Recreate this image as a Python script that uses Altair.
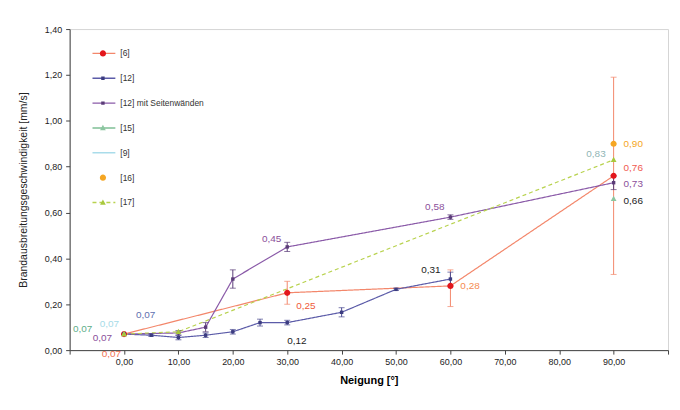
import altair as alt
import pandas as pd

# ---------------- data ----------------
series_names = ["[6]", "[12]", "[12] mit Seitenwänden", "[15]", "[9]", "[16]", "[17]"]

x6 = [0, 30, 60, 90]
y6 = [0.07, 0.25, 0.28, 0.76]
lo6 = [0.07, 0.20, 0.19, 0.33]
hi6 = [0.07, 0.30, 0.35, 1.19]

x12 = [0, 5, 10, 15, 20, 25, 30, 40, 50, 60]
y12 = [0.07, 0.065, 0.055, 0.065, 0.08, 0.12, 0.12, 0.165, 0.265, 0.31]
e12 = [0.0, 0.005, 0.01, 0.01, 0.01, 0.015, 0.01, 0.02, 0.005, 0.03]

x12s = [0, 10, 15, 20, 30, 60, 90]
y12s = [0.07, 0.075, 0.10, 0.31, 0.45, 0.58, 0.73]
e12s = [0.0, 0.01, 0.02, 0.04, 0.02, 0.01, 0.03]

x15 = [0, 90]
y15 = [0.07, 0.66]
x9 = [0]
y9 = [0.07]
x16 = [90]
y16 = [0.90]
x17 = [0, 10, 90]
y17 = [0.07, 0.08, 0.83]

# value labels
lab_series = ["[15]", "[9]", "[12]", "[12] mit Seitenwänden", "[6]",
              "[12] mit Seitenwänden", "[6]", "[12]",
              "[12] mit Seitenwänden", "[12]", "[6]",
              "[16]", "[17]", "[6]", "[12] mit Seitenwänden", "[15]"]
lab_x = [0, 0, 0, 0, 0, 30, 30, 30, 60, 60, 60, 90, 90, 90, 90, 90]
lab_v = [0.07, 0.07, 0.07, 0.07, 0.07, 0.45, 0.25, 0.12, 0.58, 0.31, 0.28,
         0.90, 0.83, 0.76, 0.73, 0.66]

# ---------------- styles ----------------
line_colors = ["#f3876b", "#5b5ba8", "#8a5aa8", "#7fbf95", "#a9dcea", "transparent", "#b8d24e"]
line_dash = [[1, 0], [1, 0], [1, 0], [1, 0], [1, 0], [1, 0], [4, 3]]
point_colors = ["#e3161c", "#3c3c80", "#5a3c78", "#8cc6a0", "transparent", "#f5a623", "#a8c83c"]
CIRC = "M -0.27 0 A 0.27 0.27 0 1 1 0.27 0 A 0.27 0.27 0 1 1 -0.27 0 Z"
SQ = "M -0.15 -0.15 H 0.15 V 0.15 H -0.15 Z"
TRI = "M 0 -0.27 L 0.25 0.2 L -0.25 0.2 Z"
SMALLC = "M -0.1 0 A 0.1 0.1 0 1 1 0.1 0 A 0.1 0.1 0 1 1 -0.1 0 Z"
point_shapes = [CIRC, SQ, SQ, TRI, SMALLC, CIRC, TRI]
err_colors = {"[6]": "#f3876b", "[12]": "#4a4a90", "[12] mit Seitenwänden": "#5a3c78"}

lab_colors = ["#5fae8a", "#a6dbe8", "#6070b0", "#8a4f9a", "#f07050",
              "#8a4f9a", "#f05a3a", "#222222",
              "#8a4f9a", "#222222", "#f58a50",
              "#f5a623", "#8fb5b5", "#f05a50", "#8a4f9a", "#222222"]
lab_dx = [-32, -5, 12, -12, -3, -6, 9, 0, -6, -10, 10, 10, -8, 10, 10, 10]
lab_dy = [-5, -10, -19, 4, 20, -8, 13, 19, -10, -9, 0, 0, -6, -8, 1, 2]
lab_align = ["right", "right", "left", "right", "right", "right", "left", "left",
             "right", "right", "left", "left", "right", "left", "left", "left"]

FONT = "Liberation Sans"
SYM = 529

# ---------------- tables ----------------
def long(name, xs, ys):
    return pd.DataFrame({"series": name, "x": xs, "y": ys})

pts = pd.concat([
    long("[6]", x6, y6), long("[12]", x12, y12), long("[12] mit Seitenwänden", x12s, y12s),
    long("[15]", x15, y15), long("[9]", x9, y9), long("[16]", x16, y16), long("[17]", x17, y17),
], ignore_index=True)
lines_df = pts[pts["series"].isin(["[6]", "[12]", "[12] mit Seitenwänden", "[17]"])]

err = pd.concat([
    pd.DataFrame({"series": "[6]", "x": x6, "lo": lo6, "hi": hi6}),
    pd.DataFrame({"series": "[12]", "x": x12,
                  "lo": [a - b for a, b in zip(y12, e12)], "hi": [a + b for a, b in zip(y12, e12)]}),
    pd.DataFrame({"series": "[12] mit Seitenwänden", "x": x12s,
                  "lo": [a - b for a, b in zip(y12s, e12s)], "hi": [a + b for a, b in zip(y12s, e12s)]}),
], ignore_index=True)
err = err[err["hi"] > err["lo"]]
err["color"] = err["series"].map(err_colors)
caps = pd.concat([
    err[["series", "x", "color"]].assign(y=err["lo"]),
    err[["series", "x", "color"]].assign(y=err["hi"]),
], ignore_index=True)

xscale = alt.Scale(domain=[-10, 100], nice=False, zero=False)
yscale = alt.Scale(domain=[0, 1.4], nice=False)

xaxis = alt.Axis(
    values=list(range(-10, 101, 10)),
    labelExpr="datum.value < 0 || datum.value > 90 ? '' : replace(format(datum.value, '.2f'), '.', ',')",
    title="Neigung [°]", titleFontWeight="bold", titleFontSize=11, titleFont=FONT,
    labelFont=FONT, labelFontSize=9, labelColor="#222", grid=False,
    domainColor="#444", tickColor="#444", tickSize=4, labelPadding=3, titlePadding=9,
)
yaxis = alt.Axis(
    values=[0, 0.2, 0.4, 0.6, 0.8, 1.0, 1.2, 1.4],
    labelExpr="replace(format(datum.value, '.2f'), '.', ',')",
    title="Brandausbreitungsgeschwindigkeit [mm/s]", titleFontWeight="normal",
    titleFontSize=10.5, titleFont=FONT, titleColor="#222",
    labelFont=FONT, labelFontSize=9, labelColor="#222", grid=False,
    domainColor="#444", tickColor="#444", tickSize=4, labelPadding=4, titlePadding=16,
)

X = alt.X("x:Q", scale=xscale, axis=xaxis)
Y = alt.Y("y:Q", scale=yscale, axis=yaxis)

legend_common = dict(
    orient="none", legendX=22, legendY=16, padding=0, title=None,
    symbolSize=SYM, labelFont=FONT, labelFontSize=8.5, labelColor="#333",
    labelOffset=4, rowPadding=8, clipHeight=17,
    fillColor="transparent", strokeColor="transparent",
)

line_layer = alt.Chart(lines_df).mark_line(strokeWidth=1.2).encode(
    x=X, y=Y,
    color=alt.Color("series:N", scale=alt.Scale(domain=series_names, range=line_colors),
                    sort=series_names,
                    legend=alt.Legend(symbolType="stroke", symbolStrokeWidth=1.4, **legend_common)),
    strokeDash=alt.StrokeDash("series:N", scale=alt.Scale(domain=series_names, range=line_dash), legend=None),
    order=alt.Order("x:Q"),
)

rule_layer = alt.Chart(err).mark_rule(strokeWidth=1).encode(
    x=alt.X("x:Q", scale=xscale), y=alt.Y("lo:Q", scale=yscale), y2="hi:Q",
    color=alt.Color("color:N", scale=None),
)
cap_layer = alt.Chart(caps).mark_point(shape="stroke", size=36, filled=False, strokeWidth=1).encode(
    x=alt.X("x:Q", scale=xscale), y=alt.Y("y:Q", scale=yscale),
    color=alt.Color("color:N", scale=None),
)

pleg = alt.Legend(labelExpr="' '", symbolStrokeWidth=0, **legend_common)
point_layer = alt.Chart(pts).mark_point(filled=True, size=SYM, opacity=1).encode(
    x=X, y=Y,
    color=alt.Color("series:N", scale=alt.Scale(domain=series_names, range=point_colors),
                    sort=series_names, legend=pleg),
    shape=alt.Shape("series:N", scale=alt.Scale(domain=series_names, range=point_shapes),
                    sort=series_names, legend=pleg),
)

label_layers = []
for i in range(len(lab_v)):
    d = pd.DataFrame({"x": [lab_x[i]], "y": [lab_v[i]],
                      "t": [f"{lab_v[i]:.2f}".replace(".", ",")]})
    label_layers.append(
        alt.Chart(d).mark_text(font=FONT, fontSize=10, color=lab_colors[i], dx=lab_dx[i], dy=lab_dy[i],
                               align=lab_align[i], baseline="middle").encode(
            x=alt.X("x:Q", scale=xscale), y=alt.Y("y:Q", scale=yscale), text="t:N")
    )

chart = alt.layer(line_layer, rule_layer, cap_layer, point_layer, *label_layers).resolve_scale(
    color="independent", shape="independent", strokeDash="independent"
).properties(
    width=602, height=323,
    autosize=alt.AutoSizeParams(type="none"),
    padding={"left": 62, "top": 20, "right": 4, "bottom": 50},
    background="white",
).configure_view(stroke="#d5d5d5", strokeWidth=1)

chart.save("out.html", embed_options={"renderer": "svg", "actions": False})
